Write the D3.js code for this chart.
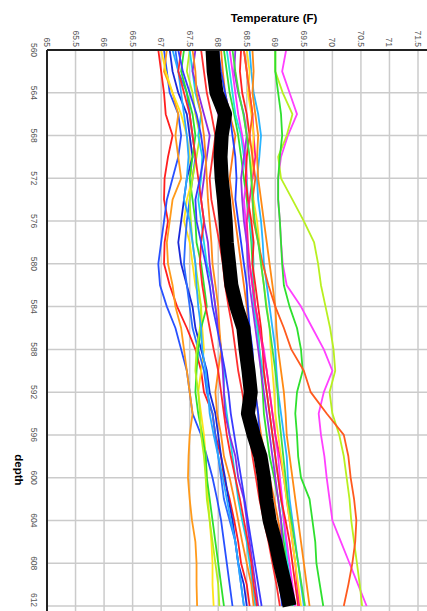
<!DOCTYPE html>
<html>
<head>
<meta charset="utf-8">
<script src="https://cdn.jsdelivr.net/npm/d3@7"></script>
<style>
  body { margin: 0; background: #fff; }
  svg { display: block; font-family: Arial, "Liberation Sans", sans-serif; }
</style>
</head>
<body>
<svg width="427" height="611"></svg>
<script>
// depths (ft), one reading every 2 ft
const depths = [560,562,564,566,568,570,572,574,576,578,580,582,584,586,588,590,592,594,596,598,600,602,604,606,608,610,612];

const tempTicks = [65,65.5,66,66.5,67,67.5,68,68.5,69,69.5,70,70.5,71,71.5,72];
const depthTicks = [560,564,568,572,576,580,584,588,592,596,600,604,608,612];

// average profile (thick black)
const average = [67.9,67.92,67.97,68.12,68.06,68.04,68.06,68.1,68.13,68.15,68.19,68.23,68.32,68.44,68.48,68.53,68.57,68.52,68.62,68.74,68.8,68.84,68.9,69.0,69.08,69.17,69.25];

// individual profiles
const seriesColors = [
  "#ff1e1e","#2850ff","#ff9a1a","#ffe41a","#1a28d8","#2a6cff","#2ee02e","#b4f01e","#1ad2e6","#8a2be2",
  "#ff8c1a","#2aa8ff","#ff2a2a","#ff7a1a","#30e030","#22e0e0","#ff30ff","#ff2020","#ff1a8c","#28b4ff",
  "#9a30e6","#ff8a14","#ffe020","#2040ff","#ff40ff","#b8f020","#2ee02e","#ff5a1e",
  "#3a3aff","#ff3030","#40e040","#c040ff"
];
const series = [
  [66.95,67.0,67.05,67.08,67.2,67.12,67.06,67.05,67.12,67.06,67.05,67.15,67.28,67.45,67.6,67.7,67.75,67.9,67.95,68.05,68.1,68.2,68.28,68.35,68.4,68.5,68.55],
  [67.05,67.1,67.15,67.3,67.35,67.3,67.2,67.1,67.05,67.0,66.95,66.98,67.1,67.25,67.35,67.45,67.5,67.55,67.7,67.8,67.9,67.98,68.05,68.1,68.15,68.2,68.25],
  [67.1,67.05,67.2,67.3,67.25,67.3,67.35,67.2,67.15,67.1,67.12,67.2,67.25,67.35,67.4,67.45,67.5,67.55,67.5,67.48,67.47,67.5,67.54,67.6,67.62,67.62,67.63],
  [67.0,67.08,67.2,67.35,67.45,67.5,67.55,67.45,67.4,67.5,67.55,67.6,67.7,67.72,67.75,67.7,67.65,67.7,67.75,67.78,67.8,67.82,67.85,67.88,67.9,67.9,67.92],
  [67.15,67.2,67.3,67.45,67.5,67.55,67.45,67.4,67.35,67.3,67.35,67.45,67.55,67.6,67.7,67.8,67.85,67.95,68.0,68.05,68.12,68.18,68.25,68.3,68.35,68.45,68.5],
  [67.25,67.3,67.45,67.5,67.55,67.6,67.55,67.5,67.45,67.42,67.4,67.45,67.5,67.55,67.65,67.75,67.8,67.9,67.95,68.0,68.05,68.1,68.2,68.3,68.35,68.4,68.45],
  [67.4,67.35,67.45,67.55,67.6,67.55,67.5,67.55,67.6,67.62,67.7,67.75,67.8,67.7,67.65,67.62,67.6,67.65,67.72,67.78,67.8,67.85,67.9,67.95,68.0,68.05,68.1],
  [67.5,67.45,67.55,67.6,67.68,67.62,67.55,67.5,67.52,67.55,67.6,67.65,67.7,67.68,67.62,67.6,67.65,67.68,67.7,67.75,67.78,67.8,67.85,67.9,67.95,68.0,68.02],
  [67.5,67.55,67.6,67.7,67.65,67.72,67.7,67.65,67.7,67.75,67.8,67.9,67.95,68.0,68.05,68.1,68.1,68.15,68.2,68.25,68.3,68.35,68.42,68.5,68.55,68.6,68.65],
  [67.6,67.55,67.65,67.75,67.85,67.8,67.75,67.7,67.75,67.82,67.85,67.9,67.95,68.0,68.05,68.08,68.1,68.12,68.2,68.3,68.35,68.45,68.5,68.55,68.6,68.65,68.7],
  [67.55,67.6,67.62,67.7,67.75,67.78,67.8,67.82,67.85,67.88,67.9,67.95,68.0,68.02,68.05,68.0,67.95,67.98,68.05,68.1,68.2,68.28,68.35,68.42,68.5,68.58,68.62],
  [67.2,67.3,67.35,67.4,67.45,67.48,67.45,67.4,67.5,67.55,67.6,67.62,67.65,67.7,67.72,67.78,67.82,67.85,67.92,68.0,68.08,68.15,68.22,68.3,68.35,68.4,68.45],
  [67.35,67.3,67.4,67.5,67.55,67.6,67.65,67.7,67.75,67.7,67.68,67.72,67.78,67.85,67.92,68.0,68.05,68.1,68.15,68.22,68.3,68.38,68.45,68.52,68.58,68.62,68.68],
  [68.05,68.08,68.12,68.2,68.3,68.25,68.2,68.25,68.3,68.35,68.4,68.45,68.5,68.55,68.55,68.6,68.65,68.7,68.75,68.82,68.9,68.98,69.05,69.12,69.2,69.28,69.35],
  [68.1,68.15,68.2,68.28,68.35,68.4,68.45,68.5,68.55,68.58,68.6,68.62,68.65,68.7,68.72,68.75,68.78,68.8,68.85,68.9,68.98,69.05,69.1,69.15,69.2,69.25,69.3],
  [68.15,68.2,68.25,68.3,68.4,68.45,68.5,68.52,68.55,68.6,68.62,68.6,68.62,68.68,68.72,68.78,68.85,68.9,68.95,69.0,69.05,69.1,69.15,69.18,69.22,69.28,69.32],
  [68.2,68.25,68.3,68.35,68.42,68.48,68.5,68.45,68.48,68.5,68.55,68.6,68.65,68.72,68.8,68.85,68.9,68.95,69.0,69.05,69.08,69.12,69.15,69.2,69.25,69.3,69.35],
  [68.4,68.38,68.42,68.5,68.55,68.5,68.48,68.52,68.58,68.62,68.6,68.65,68.7,68.75,68.78,68.8,68.85,68.9,68.95,69.0,69.05,69.1,69.18,69.25,69.3,69.35,69.4],
  [68.45,68.5,68.55,68.6,68.62,68.65,68.6,68.55,68.5,68.52,68.55,68.6,68.65,68.72,68.78,68.85,68.9,68.95,69.0,69.08,69.15,69.2,69.25,69.3,69.35,69.38,69.42],
  [68.55,68.58,68.62,68.7,68.75,68.72,68.68,68.7,68.75,68.78,68.8,68.85,68.9,68.95,69.0,69.02,69.05,69.1,69.15,69.2,69.22,69.25,69.3,69.35,69.4,69.45,69.5],
  [68.3,68.28,68.35,68.45,68.5,68.45,68.4,68.42,68.45,68.5,68.52,68.55,68.6,68.65,68.7,68.75,68.8,68.85,68.9,68.95,69.0,69.05,69.1,69.12,69.15,69.2,69.25],
  [68.6,68.62,68.6,68.65,68.7,68.68,68.7,68.75,68.8,68.85,68.9,68.95,69.0,69.02,69.05,69.1,69.15,69.18,69.2,69.25,69.3,69.35,69.4,69.45,69.5,69.55,69.6],
  [68.5,68.55,68.52,68.58,68.62,68.6,68.58,68.62,68.68,68.72,68.75,68.8,68.85,68.9,68.92,68.95,68.98,69.0,69.05,69.1,69.15,69.2,69.25,69.3,69.35,69.4,69.45],
  [68.0,68.05,68.12,68.2,68.25,68.3,68.32,68.3,68.35,68.4,68.45,68.5,68.52,68.55,68.6,68.62,68.65,68.7,68.72,68.78,68.82,68.88,68.92,68.98,69.02,69.08,69.12],
  [69.19,69.12,69.25,69.38,69.22,69.1,69.05,69.05,69.08,69.1,69.13,69.2,69.45,69.65,69.85,70.0,69.85,69.76,69.8,69.86,69.9,69.95,70.0,70.15,70.3,70.45,70.6],
  [69.0,69.0,69.13,69.3,69.2,69.05,69.1,69.3,69.5,69.68,69.75,69.8,69.88,69.96,70.02,70.05,69.95,70.0,70.12,70.2,70.25,70.3,70.33,70.38,70.43,70.48,70.52],
  [69.0,69.0,69.05,69.1,69.12,69.08,69.05,69.05,69.08,69.1,69.12,69.15,69.25,69.38,69.45,69.48,69.38,69.35,69.38,69.4,69.45,69.6,69.65,69.7,69.72,69.78,69.84],
  [68.45,68.5,68.55,68.6,68.55,68.6,68.65,68.6,68.62,68.7,68.78,68.88,69.0,69.15,69.28,69.5,69.62,69.9,70.2,70.28,70.32,70.38,70.42,70.4,70.35,70.28,70.2],
  [67.3,67.38,67.5,67.62,67.7,67.75,67.68,67.6,67.62,67.7,67.78,67.85,67.9,67.98,68.05,68.12,68.18,68.22,68.28,68.34,68.4,68.46,68.52,68.58,68.64,68.7,68.76],
  [67.7,67.75,67.8,67.88,67.95,67.9,67.85,67.88,67.95,68.02,68.08,68.12,68.18,68.25,68.3,68.35,68.42,68.48,68.55,68.6,68.66,68.72,68.8,68.88,68.95,69.02,69.08],
  [68.25,68.3,68.36,68.44,68.5,68.55,68.58,68.6,68.64,68.7,68.75,68.8,68.84,68.9,68.95,69.0,69.04,69.06,69.1,69.14,69.18,69.22,69.28,69.34,69.4,69.46,69.52],
  [67.85,67.82,67.9,68.0,68.08,68.05,68.0,68.02,68.06,68.12,68.18,68.24,68.3,68.38,68.45,68.5,68.55,68.6,68.66,68.72,68.78,68.84,68.9,68.96,69.02,69.1,69.16]
];

const svg = d3.select("svg");
const W = 427, H = 611;

const x = d3.scaleLinear().domain([65, 71.5]).range([47, 418]);
const y = d3.scaleLinear().domain([560, 612]).range([50, 606]);

// grid
const grid = svg.append("g").attr("stroke", "#cbcbcb").attr("stroke-width", 1.5);
grid.selectAll("line.v").data(tempTicks.slice(1)).join("line")
  .attr("x1", d => x(d)).attr("x2", d => x(d)).attr("y1", y(560)).attr("y2", H);
grid.selectAll("line.h").data(depthTicks.slice(1)).join("line")
  .attr("x1", x(65)).attr("x2", W).attr("y1", d => y(d)).attr("y2", d => y(d));

// lines
const line = d3.line()
  .x(d => x(d[1]))
  .y(d => y(d[0]));

const plot = svg.append("g");
plot.selectAll("path.s").data(series).join("path")
  .attr("fill", "none")
  .attr("stroke", (d, i) => seriesColors[i])
  .attr("stroke-width", 1.8)
  .attr("stroke-linejoin", "round")
  .attr("d", d => line(d.map((v, i) => [depths[i], v])));

plot.append("path")
  .attr("fill", "none")
  .attr("stroke", "#000")
  .attr("stroke-width", 14)
  .attr("stroke-linejoin", "round")
  .attr("d", line(average.map((v, i) => [depths[i], v])));

// axes lines
svg.append("line").attr("x1", x(65)).attr("x2", W).attr("y1", y(560)).attr("y2", y(560))
  .attr("stroke", "#222").attr("stroke-width", 2);
svg.append("line").attr("x1", x(65)).attr("x2", x(65)).attr("y1", y(560)).attr("y2", H)
  .attr("stroke", "#222").attr("stroke-width", 2);

// top tick labels (rotated)
svg.append("g").selectAll("text").data(tempTicks.filter(d => d <= 71.5)).join("text")
  .attr("transform", d => `translate(${x(d)},${y(560) - 3}) rotate(90)`)
  .attr("text-anchor", "end")
  .attr("dominant-baseline", "central")
  .attr("font-size", 8.5)
  .attr("fill", "#555")
  .text(d => d);

// left tick labels (rotated)
svg.append("g").selectAll("text").data(depthTicks).join("text")
  .attr("transform", d => `translate(34,${Math.min(y(d), 600)}) rotate(90)`)
  .attr("text-anchor", "middle")
  .attr("dominant-baseline", "central")
  .attr("font-size", 8.5)
  .attr("fill", "#555")
  .text(d => d);

// axis titles
svg.append("text")
  .attr("x", 274).attr("y", 22)
  .attr("text-anchor", "middle")
  .attr("font-size", 11.5).attr("font-weight", "bold")
  .text("Temperature (F)");

svg.append("text")
  .attr("transform", "translate(19,470) rotate(90)")
  .attr("text-anchor", "middle")
  .attr("dominant-baseline", "central")
  .attr("font-size", 11.5).attr("font-weight", "bold")
  .text("depth");
</script>
</body>
</html>
